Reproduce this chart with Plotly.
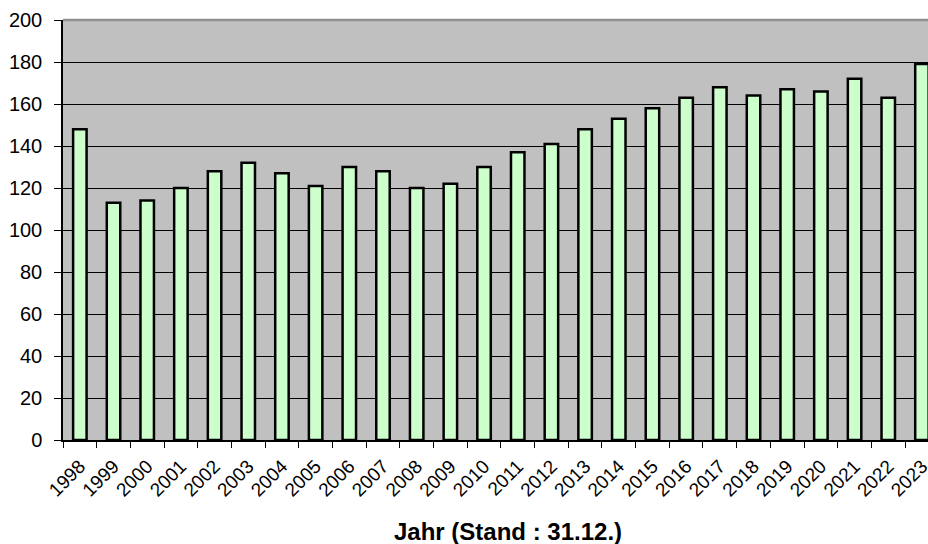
import plotly.graph_objects as go

years = [str(y) for y in range(1998, 2024)]
values = [148, 113, 114, 120, 128, 132, 127, 121, 130, 128, 120, 122, 130,
          137, 141, 148, 153, 158, 163, 168, 164, 167, 166, 172, 163, 179]
y_ticks = [0, 20, 40, 60, 80, 100, 120, 140, 160, 180, 200]
x_title = "Jahr (Stand : 31.12.)"

FONT = "Liberation Sans, Arial, sans-serif"

fig = go.Figure()
fig.add_trace(go.Bar(
    x=years, y=values,
    marker=dict(color="#CCFFCC", line=dict(color="black", width=2.5)),
))

fig.update_layout(
    width=928, height=544,
    margin=dict(l=63, r=0, t=20, b=104, autoexpand=False),
    paper_bgcolor="white",
    plot_bgcolor="#C0C0C0",
    bargap=0.6,
    showlegend=False,
    font=dict(family=FONT, color="black", size=20),
)

fig.update_xaxes(
    type="category",
    range=[-0.5, 25.18],
    automargin=False,
    tickangle=-45,
    tickfont=dict(size=19, family=FONT, color="black"),
    ticklabelstandoff=6,
    showline=True, linecolor="black", linewidth=1.5,
    ticks="outside", tickson="boundaries", ticklen=6, tickcolor="black", tickwidth=1,
    showgrid=False, zeroline=False,
)
fig.update_yaxes(
    range=[0, 200],
    automargin=False,
    tickvals=y_ticks,
    tickfont=dict(size=20, family=FONT, color="black"),
    showline=True, linecolor="black", linewidth=1.5,
    ticks="outside", ticklen=7, tickcolor="black", tickwidth=1,
    ticklabelstandoff=8,
    showgrid=True, gridcolor="black", gridwidth=1,
    zeroline=False,
)

# gray top border of the plot area
fig.add_shape(type="line", xref="paper", yref="paper", x0=0, x1=1, y0=1, y1=1,
              line=dict(color="#909090", width=2.5), layer="above")

fig.add_annotation(
    text="<b>" + x_title + "</b>",
    xref="paper", yref="paper", x=0.5145, y=-0.219,
    xanchor="center", yanchor="middle", showarrow=False,
    font=dict(size=24, family=FONT, color="black"),
)

# remove the default page margin so the figure fills the window exactly
fig.write_html("out.html", config={"displayModeBar": False},
               post_script="document.body.style.margin='0';")
